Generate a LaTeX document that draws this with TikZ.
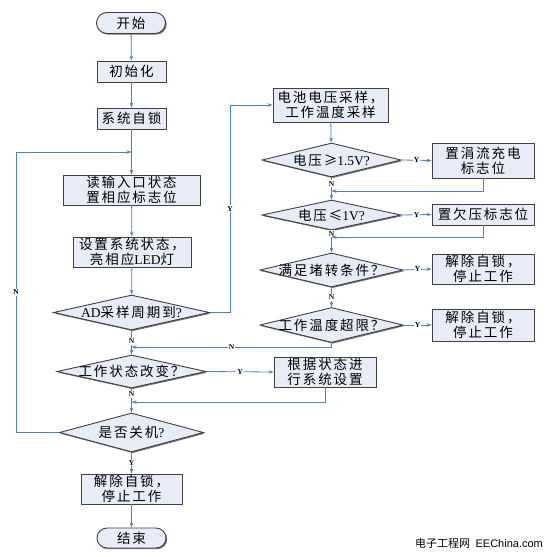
\documentclass[tikz,border=0pt]{standalone}
\usepackage{fontspec}
\setmainfont{Liberation Serif}
\newfontfamily\cjk[LetterSpace=14]{Noto Sans CJK SC}
\newfontfamily\cjkw{Noto Sans CJK SC}
\newfontfamily\latf{Liberation Serif}
\newfontfamily\sansf{Liberation Sans}
\newcommand\Lt[1]{{\latf #1}}
\usetikzlibrary{shapes.geometric,shapes.misc,shadows,arrows.meta}
\definecolor{fillc}{RGB}{232,236,246}
\definecolor{linec}{RGB}{79,129,189}
\definecolor{edgec}{RGB}{64,64,64}
\begin{document}
\begin{tikzpicture}[x=1pt,y=-1pt,
 base/.style={draw=edgec,line width=0.9pt,fill=fillc,
   drop shadow={shadow xshift=1.2pt,shadow yshift=-1.2pt,opacity=0.55,fill=black},
   font=\cjk\fontsize{13.5}{15}\selectfont, align=center, inner sep=0pt},
 box/.style={base,rectangle},
 term/.style={base,rounded rectangle},
 dec/.style={base,diamond,aspect=1},
 dtext/.style={font=\cjk\fontsize{13.5}{15}\selectfont,inner sep=0pt},
 arr/.style={draw=linec,line width=0.8pt,-{Stealth[length=5pt,width=3.5pt]}},
 ln/.style={draw=linec,line width=0.8pt},
 yn/.style={font=\latf\bfseries\fontsize{7.5}{8}\selectfont,fill=white,inner sep=1pt,text=black}
]
\fill[white] (0,0) rectangle (555,557);
\useasboundingbox (0,0) rectangle (555,557);

% left column
\node[term,minimum width=69pt,minimum height=21pt] (start) at (131,23) {开始};
\node[box,minimum width=69pt,minimum height=21pt] (init) at (131.5,71.5) {初始化};
\node[box,minimum width=69pt,minimum height=21pt] (lock) at (131.5,118.5) {系统自锁};
\coordinate (j1) at (131.5,152);
\node[box,minimum width=137pt,minimum height=30pt] (read) at (131.5,190) {读输入口状态\\置相应标志位};
\node[box,minimum width=118pt,minimum height=30pt] (set) at (132,252) {设置系统状态，\\亮相应\Lt{LED}灯};
\node[dec,minimum width=156pt,minimum height=35pt,label={[dtext]center:\Lt{AD}采样周期到\Lt{?}}] (ad) at (131.5,312.5) {};
\coordinate (j4) at (131.5,347);
\node[dec,minimum width=149pt,minimum height=33pt,label={[dtext]center:工作状态改变？}] (chg) at (131.5,371.5) {};
\coordinate (j5) at (131.5,402);
\node[dec,minimum width=144pt,minimum height=39pt,label={[dtext]center:是否关机\Lt{?}}] (off) at (131.5,432.5) {};
\node[box,minimum width=101pt,minimum height=30pt] (ul3) at (131.5,489) {解除自锁，\\停止工作};
\node[term,minimum width=69pt,minimum height=20pt] (end) at (131.5,538) {结束};

% right column
\node[box,minimum width=115pt,minimum height=34pt] (samp) at (330.5,105) {电池电压采样，\\工作温度采样};
\node[dec,minimum width=139pt,minimum height=34pt,label={[dtext]center:电压≥\Lt{1.5V?}}] (d1) at (331.5,160) {};
\node[box,minimum width=102pt,minimum height=35pt] (tric) at (483,160.5) {置涓流充电\\标志位};
\coordinate (j2) at (331.5,191);
\node[dec,minimum width=139pt,minimum height=30pt,label={[dtext]center:电压≤\Lt{1V?}}] (d2) at (331.5,215) {};
\node[box,minimum width=102pt,minimum height=21pt] (uv) at (483,214.5) {置欠压标志位};
\coordinate (j3) at (331.5,237);
\node[dec,minimum width=143pt,minimum height=34pt,label={[dtext]center:满足堵转条件？}] (d3) at (331.5,270) {};
\node[box,minimum width=102pt,minimum height=30pt] (ul1) at (483,269) {解除自锁，\\停止工作};
\node[dec,minimum width=143pt,minimum height=35pt,label={[dtext]center:工作温度超限？}] (d4) at (331.5,325) {};
\node[box,minimum width=102pt,minimum height=32pt] (ul2) at (483,325) {解除自锁，\\停止工作};
\node[box,minimum width=102pt,minimum height=30pt] (cfg) at (325,372) {根据状态进\\行系统设置};

% bend coordinates
\coordinate (ya) at (230,312.5);
\coordinate (yb) at (230,105);
\coordinate (t1) at (483,191);
\coordinate (t2) at (483,237);
\coordinate (t4) at (331.5,347);
\coordinate (c1) at (325,402);
\coordinate (lb) at (16,432.5);
\coordinate (lt) at (16,152);

% connectors
\draw[arr] (start) -- (init);
\draw[arr] (init) -- (lock);
\draw[arr] (lock) -- (read);
\draw[arr] (read) -- (set);
\draw[arr] (set) -- (ad);
\draw[arr] (ad.east) -- (ya) -- node[yn]{Y} (yb) -- (samp.west);
\draw[arr] (samp) -- (d1);
\draw[arr] (d1.east) -- node[yn]{Y} (tric.west);
\draw[arr] (d1.south) -- node[yn,pos=0.28]{N} (d2.north);
\draw[arr] (tric.south) -- (t1) -- (j2);
\draw[arr] (d2.east) -- node[yn]{Y} (uv.west);
\draw[arr] (d2.south) -- node[yn,pos=0.15]{N} (d3.north);
\draw[arr] (uv.south) -- (t2) -- (j3);
\draw[arr] (d3.east) -- node[yn]{Y} (ul1.west);
\draw[arr] (d3.south) -- node[yn]{N} (d4.north);
\draw[arr] (d4.east) -- node[yn]{Y} (ul2.west);
\draw[arr] (d4.south) -- (t4) -- node[yn]{N} (j4);
\draw[arr] (ad.south) -- node[yn,pos=0.44]{N} (chg.north);
\draw[arr] (chg.east) -- node[yn]{Y} (cfg.west);
\draw[arr] (cfg.south) -- (c1) -- (j5);
\draw[arr] (chg.south) -- node[yn,pos=0.25]{N} (off.north);
\draw[arr] (off.west) -- (lb) -- node[yn]{N} (lt) -- (j1);
\draw[arr] (off.south) -- node[yn]{Y} (ul3.north);
\draw[arr] (ul3) -- (end);

% watermark
\node[font=\fontsize{11}{12}\selectfont,inner sep=0pt] (wm) at (479,543) {{\cjkw 电子工程网}\ \ {\sansf EEChina.com}};
\end{tikzpicture}
\end{document}
